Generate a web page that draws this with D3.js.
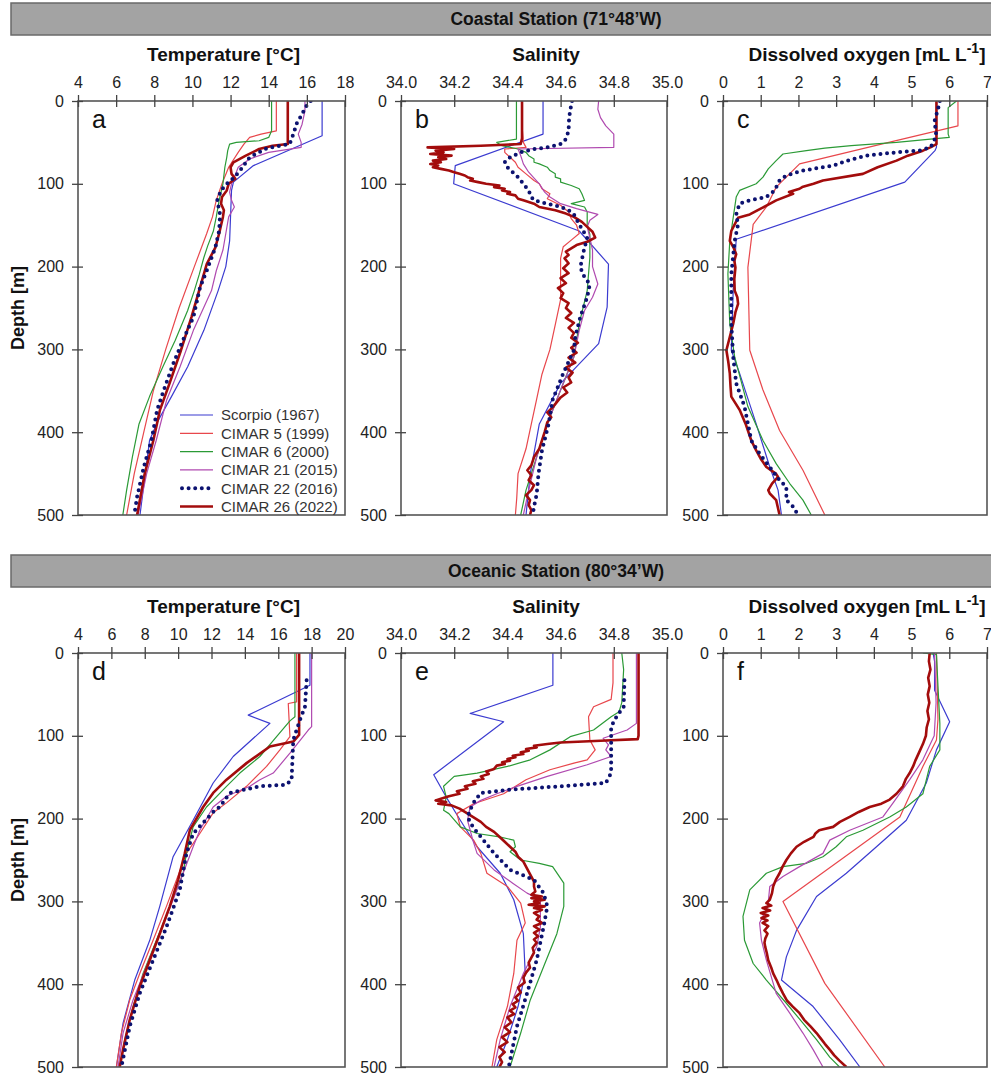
<!DOCTYPE html>
<html>
<head>
<meta charset="utf-8">
<script src="https://cdn.jsdelivr.net/npm/d3@7"></script>
<style>
  body { margin: 0; background: #fff; }
  svg { display: block; }
  text { font-family: "Liberation Sans", Arial, Helvetica, sans-serif; }
</style>
</head>
<body>
<svg id="fig" width="991" height="1076"></svg>
<script>
// ---------------- data: [depth (m), value] ----------------
const cruiseNames = ["Scorpio (1967)", "CIMAR 5 (1999)", "CIMAR 6 (2000)",
                     "CIMAR 21 (2015)", "CIMAR 22 (2016)", "CIMAR 26 (2022)"];

const depthTicks = [0, 100, 200, 300, 400, 500];
const tempCoastTicks = [4, 6, 8, 10, 12, 14, 16, 18];
const tempOceanTicks = [4, 6, 8, 10, 12, 14, 16, 18, 20];
const salTicks = [34.0, 34.2, 34.4, 34.6, 34.8, 35.0];
const oxyTicks = [0, 1, 2, 3, 4, 5, 6, 7];

// Coastal station - temperature
const tempCoastScorpio = [[0,16.8],[42,16.8],[78,13.2],[98,12.15],[108,12.05],[169,11.95],[200,11.75],[229,11.35],[277,10.6],[321,9.75],[357,8.9],[386,8.2],[410,7.75],[500,7.25]];
const tempCoastC5 = [[0,14.4],[36,14.4],[40,13.6],[44,13.0],[52,12.7],[62,12.4],[80,11.9],[100,11.55],[120,11.25],[140,11.05],[160,10.75],[200,10.1],[250,9.3],[300,8.6],[350,7.95],[400,7.45],[450,6.95],[500,6.55]];
const tempCoastC6 = [[0,14.15],[36,14.15],[44,14.0],[48,13.5],[50,12.3],[52,11.95],[60,11.85],[68,11.8],[80,11.7],[100,11.6],[120,11.4],[140,11.25],[157,11.1],[175,10.8],[189,10.6],[210,10.35],[229,10.1],[253,9.75],[289,9.1],[321,8.45],[357,7.75],[390,7.2],[430,6.85],[470,6.55],[500,6.35]];
const tempCoastC21 = [[0,15.9],[12,15.9],[28,15.75],[40,15.55],[50,15.7],[56,15.7],[62,14.0],[70,13.0],[80,12.4],[92,12.2],[100,12.05],[110,11.95],[120,12.05],[128,12.2],[140,11.9],[160,11.75],[180,11.6],[205,11.25],[229,11.0],[249,10.6],[277,10.05],[321,9.35],[361,8.65],[410,8.1],[450,7.6],[500,7.15]];
const tempCoastC22 = [[0,16.2],[5,16.0],[20,15.65],[28,15.45],[36,15.35],[46,15.2],[52,15.1],[57,13.9],[68,13.0],[84,12.5],[92,12.2],[100,11.8],[108,11.5],[120,11.3],[137,11.45],[157,11.4],[177,11.2],[205,10.75],[225,10.4],[261,10.05],[289,9.5],[317,9.0],[349,8.5],[373,8.15],[410,7.85],[442,7.45],[478,7.1],[500,6.95]];
const tempCoastC26 = [[0,15.0],[52,15.0],[54,14.2],[58,13.5],[66,12.8],[74,12.15],[80,12.0],[88,12.05],[94,12.25],[100,11.9],[108,11.8],[116,11.55],[124,11.5],[132,11.65],[140,11.6],[150,11.5],[160,11.4],[177,11.2],[197,10.75],[225,10.4],[261,9.95],[301,9.4],[341,8.8],[373,8.3],[410,7.95],[450,7.5],[500,7.1]];

// Coastal station - salinity
const salCoastScorpio = [[0,34.534],[40,34.534],[78,34.204],[100,34.198],[157,34.67],[197,34.78],[249,34.775],[293,34.743],[341,34.6],[390,34.52],[450,34.486],[500,34.47]];
const salCoastC5 = [[0,34.455],[30,34.455],[50,34.46],[56,34.47],[58,34.39],[62,34.39],[68,34.41],[74,34.43],[80,34.44],[88,34.47],[96,34.5],[100,34.52],[106,34.53],[112,34.56],[118,34.55],[126,34.6],[134,34.63],[142,34.64],[150,34.66],[160,34.67],[168,34.64],[176,34.61],[190,34.6],[210,34.6],[240,34.6],[270,34.58],[300,34.56],[330,34.53],[360,34.51],[390,34.49],[420,34.47],[450,34.44],[480,34.435],[500,34.43]];
const salCoastC6 = [[0,34.434],[30,34.434],[46,34.434],[50,34.36],[54,34.38],[58,34.44],[62,34.47],[66,34.48],[70,34.5],[74,34.5],[76,34.52],[80,34.55],[84,34.56],[88,34.58],[92,34.58],[94,34.6],[98,34.6],[102,34.64],[106,34.67],[112,34.68],[120,34.69],[124,34.64],[128,34.69],[134,34.7],[149,34.7],[161,34.71],[189,34.71],[229,34.7],[269,34.67],[309,34.65],[349,34.6],[390,34.55],[430,34.51],[470,34.47],[500,34.45]];
const salCoastC21 = [[0,34.743],[10,34.74],[20,34.75],[30,34.77],[40,34.8],[50,34.8],[56,34.8],[58,34.44],[66,34.45],[76,34.46],[86,34.48],[100,34.52],[110,34.54],[116,34.56],[124,34.6],[130,34.66],[137,34.74],[144,34.71],[152,34.7],[165,34.71],[180,34.72],[200,34.72],[221,34.74],[237,34.72],[253,34.69],[277,34.67],[309,34.65],[349,34.6],[390,34.55],[430,34.51],[470,34.48],[500,34.46]];
const salCoastC22 = [[0,34.643],[10,34.637],[20,34.632],[36,34.63],[46,34.62],[52,34.6],[56,34.55],[58,34.5],[62,34.45],[68,34.41],[74,34.39],[80,34.4],[86,34.42],[92,34.44],[100,34.46],[108,34.48],[116,34.49],[120,34.5],[124,34.55],[128,34.6],[132,34.63],[137,34.65],[149,34.67],[165,34.7],[181,34.687],[201,34.674],[213,34.69],[221,34.71],[237,34.7],[261,34.674],[285,34.655],[301,34.65],[329,34.61],[361,34.57],[390,34.555],[422,34.53],[450,34.517],[475,34.51],[490,34.5],[500,34.495]];
const salCoastC26 = [[0,34.455],[20,34.455],[45,34.455],[52,34.45],[54,34.3],[56,34.10],[58,34.2],[60,34.13],[62,34.16],[64,34.11],[66,34.19],[68,34.14],[70,34.17],[72,34.12],[74,34.15],[76,34.11],[78,34.14],[80,34.12],[82,34.15],[84,34.18],[86,34.2],[88,34.22],[90,34.24],[92,34.25],[94,34.27],[96,34.26],[98,34.29],[100,34.32],[102,34.37],[104,34.35],[106,34.39],[108,34.38],[110,34.41],[112,34.4],[114,34.43],[118,34.44],[120,34.46],[124,34.5],[128,34.52],[132,34.58],[136,34.62],[140,34.65],[146,34.68],[152,34.7],[158,34.72],[165,34.73],[170,34.7],[174,34.66],[178,34.64],[182,34.62],[186,34.63],[190,34.615],[196,34.63],[202,34.61],[208,34.63],[214,34.6],[220,34.62],[226,34.59],[232,34.61],[238,34.6],[244,34.63],[250,34.62],[256,34.64],[262,34.62],[268,34.65],[274,34.63],[280,34.65],[286,34.64],[292,34.665],[298,34.64],[304,34.66],[310,34.63],[316,34.655],[322,34.62],[328,34.645],[334,34.63],[340,34.64],[346,34.61],[352,34.625],[358,34.6],[364,34.585],[370,34.57],[376,34.55],[382,34.565],[388,34.55],[394,34.545],[400,34.54],[410,34.53],[420,34.52],[430,34.5],[440,34.49],[446,34.475],[452,34.49],[458,34.48],[464,34.5],[470,34.49],[476,34.47],[482,34.485],[488,34.48],[494,34.49],[500,34.485]];

// Coastal station - dissolved oxygen
const oxyCoastScorpio = [[0,5.66],[56,5.66],[60,5.62],[98,4.82],[167,0.35],[229,0.27],[301,0.22],[329,0.44],[390,0.88],[442,1.24],[470,1.46],[500,1.55]];
const oxyCoastC5 = [[0,6.23],[30,6.23],[52,4.2],[76,2.03],[104,1.41],[128,1.15],[149,0.8],[201,0.66],[301,0.71],[349,1.06],[398,1.5],[446,2.12],[500,2.7]];
const oxyCoastC6 = [[0,6.19],[8,5.97],[40,5.97],[44,6.0],[46,5.5],[50,4.6],[54,3.4],[57,2.7],[60,2.21],[64,1.59],[72,1.41],[82,1.2],[92,1.06],[100,0.88],[108,0.44],[116,0.35],[141,0.27],[169,0.18],[209,0.13],[269,0.18],[309,0.31],[369,0.66],[410,1.06],[438,1.41],[462,1.77],[482,2.12],[500,2.34]];
const oxyCoastC21 = null;
const oxyCoastC22 = [[0,5.75],[10,5.7],[24,5.61],[40,5.65],[48,5.6],[56,5.5],[60,5.2],[62,4.6],[66,3.8],[72,3.3],[78,2.92],[84,2.12],[90,1.68],[96,1.5],[108,1.37],[116,1.15],[120,0.71],[124,0.44],[137,0.35],[149,0.4],[169,0.31],[209,0.22],[269,0.22],[309,0.27],[341,0.35],[369,0.57],[410,0.75],[426,0.97],[442,1.24],[458,1.5],[466,1.68],[482,1.68],[490,1.86],[500,1.99]];
const oxyCoastC26 = [[0,5.66],[52,5.66],[56,5.5],[60,5.3],[66,4.9],[72,4.6],[80,4.1],[88,3.71],[96,2.65],[100,2.4],[104,2.1],[106,2.03],[110,1.75],[112,1.86],[120,1.41],[130,1.0],[137,0.71],[141,0.4],[150,0.3],[157,0.22],[169,0.18],[177,0.28],[185,0.35],[193,0.3],[201,0.33],[215,0.3],[229,0.31],[237,0.38],[245,0.4],[255,0.33],[269,0.27],[285,0.18],[301,0.09],[315,0.14],[329,0.18],[345,0.2],[357,0.22],[373,0.44],[390,0.6],[410,0.75],[422,0.88],[432,1.0],[442,1.15],[450,1.4],[454,1.46],[462,1.3],[470,1.2],[474,1.24],[482,1.41],[490,1.45],[500,1.5]];

// Oceanic station - temperature
const tempOceanScorpio = [[0,17.9],[39,17.9],[75,14.2],[85,15.5],[125,13.3],[157,12.1],[202,10.9],[246,9.7],[306,8.9],[347,8.3],[395,7.4],[447,6.7],[500,6.3]];
const tempOceanC5 = [[0,17.1],[59,17.1],[61,16.6],[101,16.7],[117,16.1],[137,15.3],[161,14.1],[181,12.9],[193,12.1],[218,11.3],[242,10.5],[274,9.9],[306,9.3],[347,8.5],[387,7.7],[419,7.1],[459,6.6],[500,6.3]];
const tempOceanC6 = [[0,17.0],[77,17.0],[82,16.7],[101,15.9],[125,14.9],[145,13.7],[161,12.9],[186,11.7],[210,10.9],[242,10.5],[266,10.3],[306,9.5],[347,8.7],[387,7.9],[427,7.3],[467,6.8],[500,6.5]];
const tempOceanC21 = [[0,18.0],[89,18.0],[93,17.8],[121,16.7],[145,15.7],[153,14.9],[161,14.3],[173,12.9],[186,12.1],[214,11.3],[234,10.9],[266,10.3],[298,9.7],[339,8.9],[379,8.1],[419,7.3],[459,6.7],[500,6.4]];
const tempOceanC22 = [[33,17.7],[65,17.6],[81,17.3],[105,16.9],[153,16.8],[159,16.5],[161,14.9],[165,14.0],[169,13.1],[186,12.5],[190,12.2],[218,10.9],[242,10.5],[286,10.1],[331,9.3],[371,8.5],[411,7.7],[451,7.1],[500,6.6]];
const tempOceanC26 = [[0,17.25],[99,17.25],[107,16.9],[113,15.5],[133,14.1],[153,12.9],[169,12.1],[186,11.5],[214,10.7],[242,10.4],[274,10.0],[306,9.5],[339,8.9],[371,8.3],[403,7.7],[443,7.1],[479,6.7],[500,6.5]];

// Oceanic station - salinity
const salOceanScorpio = [[0,34.571],[39,34.571],[73,34.26],[83,34.386],[147,34.123],[174,34.17],[202,34.223],[234,34.286],[266,34.373],[298,34.424],[339,34.46],[387,34.467],[427,34.44],[467,34.4],[500,34.36]];
const salOceanC5 = [[0,34.797],[36,34.797],[56,34.79],[65,34.724],[77,34.705],[105,34.71],[117,34.73],[129,34.7],[133,34.65],[141,34.56],[153,34.47],[170,34.386],[182,34.273],[194,34.21],[210,34.223],[226,34.273],[242,34.3],[266,34.323],[282,34.4],[302,34.45],[326,34.467],[347,34.436],[387,34.424],[427,34.4],[467,34.36],[500,34.342]];
const salOceanC6 = [[0,34.83],[20,34.837],[60,34.83],[71,34.82],[77,34.79],[93,34.724],[101,34.636],[117,34.56],[129,34.486],[137,34.4],[145,34.286],[149,34.2],[161,34.16],[174,34.17],[190,34.16],[194,34.18],[210,34.223],[218,34.286],[222,34.37],[226,34.424],[234,34.43],[240,34.41],[250,34.45],[254,34.52],[258,34.57],[278,34.612],[306,34.612],[339,34.586],[379,34.536],[419,34.486],[459,34.45],[500,34.41]];
const salOceanC21 = [[0,34.885],[85,34.885],[93,34.85],[103,34.76],[111,34.78],[117,34.77],[125,34.79],[135,34.7],[149,34.55],[161,34.436],[170,34.36],[178,34.3],[186,34.26],[202,34.25],[226,34.27],[242,34.286],[262,34.35],[278,34.42],[290,34.474],[298,34.524],[331,34.524],[355,34.51],[387,34.46],[427,34.41],[467,34.373],[500,34.35]];
const salOceanC22 = [[33,34.84],[65,34.837],[77,34.81],[89,34.79],[145,34.79],[157,34.77],[161,34.6],[165,34.41],[169,34.3],[182,34.27],[198,34.25],[210,34.27],[226,34.31],[242,34.35],[262,34.41],[274,34.5],[290,34.536],[306,34.55],[331,34.536],[371,34.51],[411,34.474],[451,34.436],[500,34.405]];
const salOceanC26 = [[0,34.893],[50,34.893],[100,34.893],[104,34.89],[106,34.75],[108,34.6],[110,34.55],[112,34.5],[114,34.51],[116,34.47],[118,34.48],[120,34.45],[122,34.46],[124,34.42],[126,34.43],[128,34.4],[130,34.41],[132,34.38],[134,34.39],[136,34.36],[140,34.35],[143,34.32],[146,34.33],[149,34.3],[152,34.31],[155,34.27],[158,34.28],[161,34.24],[164,34.25],[167,34.21],[170,34.22],[173,34.18],[176,34.15],[178,34.13],[180,34.17],[182,34.14],[184,34.19],[188,34.22],[192,34.24],[198,34.27],[204,34.3],[210,34.32],[216,34.35],[222,34.37],[228,34.39],[234,34.41],[240,34.43],[246,34.44],[252,34.46],[258,34.47],[264,34.48],[270,34.49],[276,34.5],[282,34.5],[288,34.505],[292,34.49],[294,34.53],[296,34.49],[298,34.54],[300,34.5],[302,34.52],[304,34.48],[306,34.54],[308,34.5],[310,34.53],[314,34.5],[318,34.52],[322,34.51],[326,34.53],[330,34.5],[334,34.52],[338,34.5],[342,34.515],[346,34.5],[350,34.51],[356,34.495],[362,34.5],[368,34.49],[374,34.48],[380,34.485],[386,34.47],[392,34.46],[398,34.465],[404,34.44],[410,34.45],[416,34.43],[420,34.44],[424,34.42],[428,34.43],[432,34.41],[436,34.425],[440,34.4],[446,34.415],[452,34.39],[458,34.41],[464,34.38],[470,34.4],[476,34.37],[482,34.39],[488,34.37],[494,34.38],[500,34.37]];

// Oceanic station - dissolved oxygen
const oxyOceanScorpio = [[0,5.57],[10,5.61],[45,5.61],[83,6.01],[117,5.66],[157,5.39],[202,4.86],[234,4.07],[266,3.27],[294,2.48],[335,1.95],[367,1.68],[395,1.55],[427,2.39],[467,3.09],[500,3.63]];
const oxyOceanC5 = [[0,5.66],[80,5.7],[105,5.66],[137,5.3],[198,4.69],[300,1.59],[399,2.7],[500,4.29]];
const oxyOceanC6 = [[0,5.3],[2,5.66],[40,5.7],[85,5.75],[117,5.75],[137,5.48],[170,5.3],[186,4.86],[198,4.42],[214,3.71],[222,3.27],[234,3.0],[246,2.65],[254,2.21],[258,1.59],[266,1.15],[286,0.71],[318,0.53],[347,0.57],[375,0.8],[395,1.15],[423,1.68],[447,2.12],[467,2.48],[488,2.83],[500,3.09]];
const oxyOceanC21 = [[0,5.61],[60,5.65],[100,5.6],[129,5.3],[153,4.95],[181,4.51],[198,4.24],[214,3.36],[226,2.83],[242,2.65],[258,2.03],[270,1.59],[282,1.24],[306,1.19],[326,0.97],[347,1.02],[371,1.15],[411,1.41],[435,1.77],[459,2.12],[479,2.39],[500,2.65]];
const oxyOceanC22 = null;
const oxyOceanC26 = [[0,5.48],[10,5.46],[20,5.5],[30,5.44],[40,5.48],[50,5.43],[60,5.47],[70,5.42],[80,5.46],[90,5.4],[100,5.38],[110,5.3],[120,5.2],[130,5.1],[137,5.04],[145,4.95],[152,4.85],[161,4.77],[170,4.6],[177,4.42],[182,4.2],[186,3.89],[192,3.6],[198,3.36],[204,3.1],[210,2.92],[214,2.55],[218,2.45],[222,2.4],[228,2.15],[234,1.95],[242,1.8],[250,1.68],[258,1.58],[266,1.5],[274,1.4],[282,1.33],[290,1.3],[298,1.24],[302,1.15],[305,1.28],[308,1.05],[311,1.25],[314,1.0],[317,1.2],[320,1.02],[323,1.18],[326,1.05],[330,1.2],[335,1.1],[339,1.18],[345,1.12],[350,1.1],[355,1.12],[362,1.16],[371,1.2],[380,1.28],[387,1.33],[395,1.42],[403,1.5],[411,1.59],[420,1.7],[427,1.85],[435,2.03],[443,2.15],[451,2.32],[459,2.48],[466,2.6],[472,2.7],[479,2.83],[486,2.95],[492,3.08],[500,3.27]];

// ---------------- drawing ----------------
const svg = d3.select("#fig");
svg.append("rect").attr("width", 991).attr("height", 1076).attr("fill", "#fff");

const lineStyles = [
  { color: "#3b3bd0", width: 1.2 },
  { color: "#e8474c", width: 1.2 },
  { color: "#2b9a36", width: 1.2 },
  { color: "#b04ab0", width: 1.2 },
  { color: "#0c1270", width: 4, dots: true },
  { color: "#a30c0c", width: 2.6 }
];
const drawOrder = [0, 1, 2, 3, 5, 4];

const cols = [{ x0: 78, x1: 345 }, { x0: 401, x1: 667 }, { x0: 723, x1: 987 }];
const rows = [
  { y0: 101, y1: 515, bar: [3, 35], station: "Coastal Station (71°48’W)" },
  { y0: 653, y1: 1067, bar: [555, 587], station: "Oceanic Station (80°34’W)" }
];

const panels = [
  { r: 0, c: 0, id: "a", ticks: tempCoastTicks, fmt: d3.format("d"), title: "temp",
    series: [tempCoastScorpio, tempCoastC5, tempCoastC6, tempCoastC21, tempCoastC22, tempCoastC26] },
  { r: 0, c: 1, id: "b", ticks: salTicks, fmt: d3.format(".1f"), title: "sal",
    series: [salCoastScorpio, salCoastC5, salCoastC6, salCoastC21, salCoastC22, salCoastC26] },
  { r: 0, c: 2, id: "c", ticks: oxyTicks, fmt: d3.format("d"), title: "oxy",
    series: [oxyCoastScorpio, oxyCoastC5, oxyCoastC6, oxyCoastC21, oxyCoastC22, oxyCoastC26] },
  { r: 1, c: 0, id: "d", ticks: tempOceanTicks, fmt: d3.format("d"), title: "temp",
    series: [tempOceanScorpio, tempOceanC5, tempOceanC6, tempOceanC21, tempOceanC22, tempOceanC26] },
  { r: 1, c: 1, id: "e", ticks: salTicks, fmt: d3.format(".1f"), title: "sal",
    series: [salOceanScorpio, salOceanC5, salOceanC6, salOceanC21, salOceanC22, salOceanC26] },
  { r: 1, c: 2, id: "f", ticks: oxyTicks, fmt: d3.format("d"), title: "oxy",
    series: [oxyOceanScorpio, oxyOceanC5, oxyOceanC6, oxyOceanC21, oxyOceanC22, oxyOceanC26] }
];

// station header bars and depth labels
rows.forEach(row => {
  svg.append("rect")
    .attr("x", 11).attr("y", row.bar[0])
    .attr("width", 990).attr("height", row.bar[1] - row.bar[0])
    .attr("fill", "#a3a3a3").attr("stroke", "#6a6a6a").attr("stroke-width", 1.5);
  svg.append("text")
    .attr("x", 556).attr("y", row.bar[1] - 10)
    .attr("text-anchor", "middle")
    .attr("font-size", 17.5).attr("font-weight", "bold").attr("fill", "#111")
    .text(row.station);
  svg.append("text")
    .attr("transform", `translate(24,${(row.y0 + row.y1) / 2}) rotate(-90)`)
    .attr("text-anchor", "middle")
    .attr("font-size", 18).attr("font-weight", "bold").attr("fill", "#111")
    .text("Depth [m]");
});

const line = d3.line();

panels.forEach(p => {
  const col = cols[p.c], row = rows[p.r];
  const x = d3.scaleLinear().domain([p.ticks[0], p.ticks[p.ticks.length - 1]]).range([col.x0, col.x1]);
  const y = d3.scaleLinear().domain([0, 500]).range([row.y0, row.y1]);
  const g = svg.append("g");

  // title
  const cx = (col.x0 + col.x1) / 2 + 12;
  const t = g.append("text")
    .attr("x", cx).attr("y", row.y0 - 40)
    .attr("text-anchor", "middle")
    .attr("font-size", 19).attr("font-weight", "bold").attr("fill", "#111");
  if (p.title === "temp") t.text("Temperature [°C]");
  else if (p.title === "sal") t.text("Salinity");
  else {
    t.append("tspan").text("Dissolved oxygen [mL L");
    t.append("tspan").attr("dy", -8).attr("font-size", 14).text("-1");
    t.append("tspan").attr("dy", 8).text("]");
  }

  // clip region for the profiles
  const clipId = "clip-" + p.id;
  svg.append("clipPath").attr("id", clipId)
    .append("rect").attr("x", col.x0).attr("y", row.y0)
    .attr("width", col.x1 - col.x0).attr("height", row.y1 - row.y0);

  const lines = g.append("g").attr("clip-path", `url(#${clipId})`);
  line.x(d => x(d[1])).y(d => y(d[0]));
  drawOrder.forEach(i => {
    const data = p.series[i];
    if (!data) return;
    const st = lineStyles[i];
    const path = lines.append("path")
      .attr("d", line(data))
      .attr("fill", "none")
      .attr("stroke", st.color)
      .attr("stroke-width", st.width)
      .attr("stroke-linejoin", "round");
    if (st.dots) path.attr("stroke-dasharray", "0 6.6").attr("stroke-linecap", "round");
  });

  // frame
  g.append("rect")
    .attr("x", col.x0).attr("y", row.y0)
    .attr("width", col.x1 - col.x0).attr("height", row.y1 - row.y0)
    .attr("fill", "none").attr("stroke", "#555").attr("stroke-width", 1.6);

  // top axis
  const ax = g.append("g").attr("transform", `translate(0,${row.y0})`)
    .call(d3.axisTop(x).tickValues(p.ticks).tickFormat(p.fmt).tickSize(6).tickPadding(7).tickSizeOuter(0));
  ax.select(".domain").remove();
  ax.selectAll(".tick line").attr("y1", 6).attr("y2", -6).attr("stroke", "#444").attr("stroke-width", 1.3);
  ax.selectAll(".tick text").attr("font-size", 16).attr("fill", "#222")
    .style("font-family", '"Liberation Sans", Arial, sans-serif');

  // left axis
  const ay = g.append("g").attr("transform", `translate(${col.x0},0)`)
    .call(d3.axisLeft(y).tickValues(depthTicks).tickFormat(d3.format("d")).tickSize(6).tickPadding(8).tickSizeOuter(0));
  ay.select(".domain").remove();
  ay.selectAll(".tick line").attr("x1", 5).attr("x2", -6).attr("stroke", "#444").attr("stroke-width", 1.3);
  ay.selectAll(".tick text").attr("font-size", 16).attr("fill", "#222")
    .style("font-family", '"Liberation Sans", Arial, sans-serif');

  // panel letter
  g.append("text")
    .attr("x", col.x0 + 14).attr("y", row.y0 + 27)
    .attr("font-size", 25).attr("fill", "#111")
    .text(p.id);

  // legend inside panel a
  if (p.id === "a") {
    const lg = g.append("g");
    cruiseNames.forEach((name, i) => {
      const ly = 415 + i * 18.3;
      const st = lineStyles[i];
      const l = lg.append("line")
        .attr("x1", 180).attr("x2", 213).attr("y1", ly).attr("y2", ly)
        .attr("stroke", st.color).attr("stroke-width", st.width);
      if (st.dots) l.attr("stroke-dasharray", "0 6.6").attr("stroke-linecap", "round").attr("x1", 182);
      lg.append("text")
        .attr("x", 221).attr("y", ly).attr("dy", "0.36em")
        .attr("font-size", 15).attr("fill", "#333")
        .text(name);
    });
  }
});
</script>
</body>
</html>
